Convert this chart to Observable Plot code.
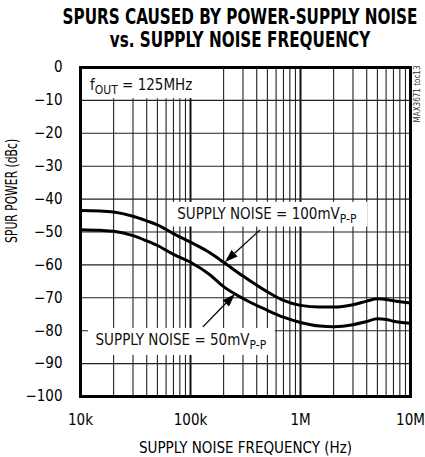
<!DOCTYPE html>
<html><head><meta charset="utf-8">
<script src="https://cdn.jsdelivr.net/npm/d3@7"></script>
<script src="https://cdn.jsdelivr.net/npm/@observablehq/plot@0.6"></script>
<style>
body{margin:0;background:#fff;}
#title{position:relative;height:55px;font-family:"DejaVu Sans Condensed","Liberation Sans",sans-serif;font-weight:bold;font-size:22px;line-height:23px;color:#000;white-space:nowrap;overflow:visible}
#title span{position:absolute;left:240px;transform-origin:50% 50%;white-space:nowrap}
#t1{top:5px}
#t2{top:28px}
#chart svg{display:block}
</style></head><body>
<div id="title"><span id="t1"></span><span id="t2"></span></div>
<div id="chart"></div>
<script>
// Supply noise frequency (Hz)
const freqHz = [1e4, 1.5e4, 2e4, 3e4, 4e4, 5e4, 7e4, 1e5, 1.5e5, 2e5, 3e5, 5e5, 7e5, 1e6, 1.5e6, 2e6, 3e6, 4e6, 5e6, 6e6, 7e6, 8e6, 1e7];
// Spur power (dBc), supply noise = 100mVP-P
const spur100mV = [-43.5, -43.6, -43.9, -45.2, -46.6, -47.8, -50.5, -53.1, -56.3, -59.2, -63.4, -68.2, -70.8, -72.3, -72.8, -72.8, -72.1, -71.0, -70.3, -70.5, -70.9, -71.2, -71.6];
// Spur power (dBc), supply noise = 50mVP-P
const spur50mV = [-49.3, -49.5, -49.8, -51.1, -52.7, -54.1, -56.8, -59.2, -63.0, -66.6, -70.2, -73.8, -75.9, -77.5, -78.6, -78.8, -78.2, -77.2, -76.4, -76.6, -77.1, -77.4, -77.7];

const xDomain = [1e4, 1e7];
const yDomain = [-100, 0];
const xTickValues = [1e4, 1e5, 1e6, 1e7];
const xTickLabels = ["10k", "100k", "1M", "10M"];
const yTickValues = [0, -10, -20, -30, -40, -50, -60, -70, -80, -90, -100];
const xGrid = [2e4,3e4,4e4,5e4,6e4,7e4,8e4,9e4,2e5,3e5,4e5,5e5,6e5,7e5,8e5,9e5,2e6,3e6,4e6,5e6,6e6,7e6,8e6,9e6];
const xGridMajor = [1e5, 1e6];
const yGrid = [-10, -20, -30, -40, -50, -60, -70, -80, -90];

const titleLines = ["SPURS CAUSED BY POWER-SUPPLY NOISE", "vs. SUPPLY NOISE FREQUENCY"];
const xAxisLabel = "SUPPLY NOISE FREQUENCY (Hz)";
const yAxisLabel = "SPUR POWER (dBc)";
const noteId = "MAX3671 toc13";

// annotation labels (| marks subscript)
const labelText = ["f|OUT| = 125MHz", "SUPPLY NOISE = 100mV|P-P|", "SUPPLY NOISE = 50mV|P-P|"];
const labelX = [1.22e4, 7.57e4, 1.37e4];
const labelY = [-5.5, -44.7, -83];
const boxX1 = [1e4, 6.4e4, 1.18e4];
const boxX2 = [1.2e5, 4.1e6, 5.9e5];
const boxY1 = [0, -41, -79.3];
const boxY2 = [-9.5, -48.5, -87.5];
// arrows: from label to curve
const arrowX1 = [4.33e5, 1.31e5];
const arrowY1 = [-49.5, -79];
const arrowX2 = [2.08e5, 2.56e5];
const arrowY2 = [-59.3, -69];

const FONT = '"DejaVu Sans Condensed","Liberation Sans",sans-serif';

// title, compressed horizontally like the condensed original
const t1 = document.getElementById("t1"), t2 = document.getElementById("t2");
t1.textContent = titleLines[0];
t2.textContent = titleLines[1];
const sx = 355 / t1.getBoundingClientRect().width;
t1.style.transform = `translateX(-50%) scaleX(${sx})`;
t2.style.transform = `translateX(-50%) scaleX(${sx})`;

const curves = [
  ...freqHz.map((f, i) => ({f, v: spur100mV[i], s: "100"})),
  ...freqHz.map((f, i) => ({f, v: spur50mV[i], s: "50"}))
];
const labels = labelText.map((t, i) => ({t, x: labelX[i], y: labelY[i]}));
const boxes = boxX1.map((x1, i) => ({x1, x2: boxX2[i], y1: boxY1[i], y2: boxY2[i]}));

function arrowMark(index, scales) {
  const g = d3.create("svg:g");
  for (let i = 0; i < arrowX1.length; i++) {
    const x1 = scales.x(arrowX1[i]), y1 = scales.y(arrowY1[i]);
    const x2 = scales.x(arrowX2[i]), y2 = scales.y(arrowY2[i]);
    const a = Math.atan2(y2 - y1, x2 - x1);
    const L = 13, W = 4.5;
    const bx = x2 - L * Math.cos(a), by = y2 - L * Math.sin(a);
    g.append("line").attr("x1", x1).attr("y1", y1).attr("x2", bx).attr("y2", by)
      .attr("stroke", "black").attr("stroke-width", 1.3);
    g.append("path")
      .attr("d", `M${x2},${y2}L${bx + W * Math.sin(a)},${by - W * Math.cos(a)}L${bx - W * Math.sin(a)},${by + W * Math.cos(a)}Z`)
      .attr("fill", "black");
  }
  return g.node();
}

const chart = Plot.plot({
  width: 425,
  height: 402,
  marginTop: 12,
  marginBottom: 61,
  marginLeft: 80,
  marginRight: 15,
  style: {fontFamily: FONT, fontSize: "15px", background: "white", color: "black"},
  x: {type: "log", domain: xDomain, ticks: xTickValues, tickFormat: d => xTickLabels[xTickValues.indexOf(d)], tickSize: 0, tickPadding: 18, label: null},
  y: {domain: yDomain, ticks: yTickValues, tickSize: 0, tickPadding: 18, label: null},
  marks: [
    Plot.ruleX(xGrid, {stroke: "#222", strokeWidth: 1.1}),
    Plot.ruleX(xGridMajor, {stroke: "#111", strokeWidth: 2}),
    Plot.ruleY(yGrid, {stroke: "#222", strokeWidth: 1.1}),
    Plot.rect(boxes, {x1: "x1", x2: "x2", y1: "y1", y2: "y2", fill: "white"}),
    Plot.line(curves, {x: "f", y: "v", z: "s", stroke: "black", strokeWidth: 3, curve: "monotone-x"}),
    arrowMark,
    Plot.text(labels, {x: "x", y: "y", text: "t", textAnchor: "start", fontSize: 15, fill: "#111"}),
    Plot.frame({stroke: "black", strokeWidth: 3}),
    Plot.text([yAxisLabel], {x: xDomain[0], y: -37.5, rotate: -90, dx: -68, fontSize: 15}),
    Plot.text([xAxisLabel], {frameAnchor: "bottom", lineAnchor: "middle", dy: 52, fontSize: 15}),
    Plot.text([noteId], {x: xDomain[1], y: 0, rotate: -90, textAnchor: "end", dx: 7, dy: -2, fontSize: 8, fill: "#333"})
  ]
});

d3.select(chart).selectAll("text").each(function() {
  const t = this.textContent;
  if (t === yAxisLabel) {
    this.setAttribute("textLength", 104);
    this.setAttribute("lengthAdjust", "spacingAndGlyphs");
    return;
  }
  if (!t.includes("|")) return;
  const parts = t.split("|");
  const sel = d3.select(this);
  sel.text(null);
  parts.forEach((p, i) => {
    if (!p) return;
    const ts = sel.append("tspan").text(p);
    if (i % 2 === 1) ts.attr("font-size", "12px").attr("dy", "4");
    else if (i > 0) ts.attr("dy", "-4");
  });
});

document.getElementById("chart").appendChild(chart);
</script>
</body></html>
